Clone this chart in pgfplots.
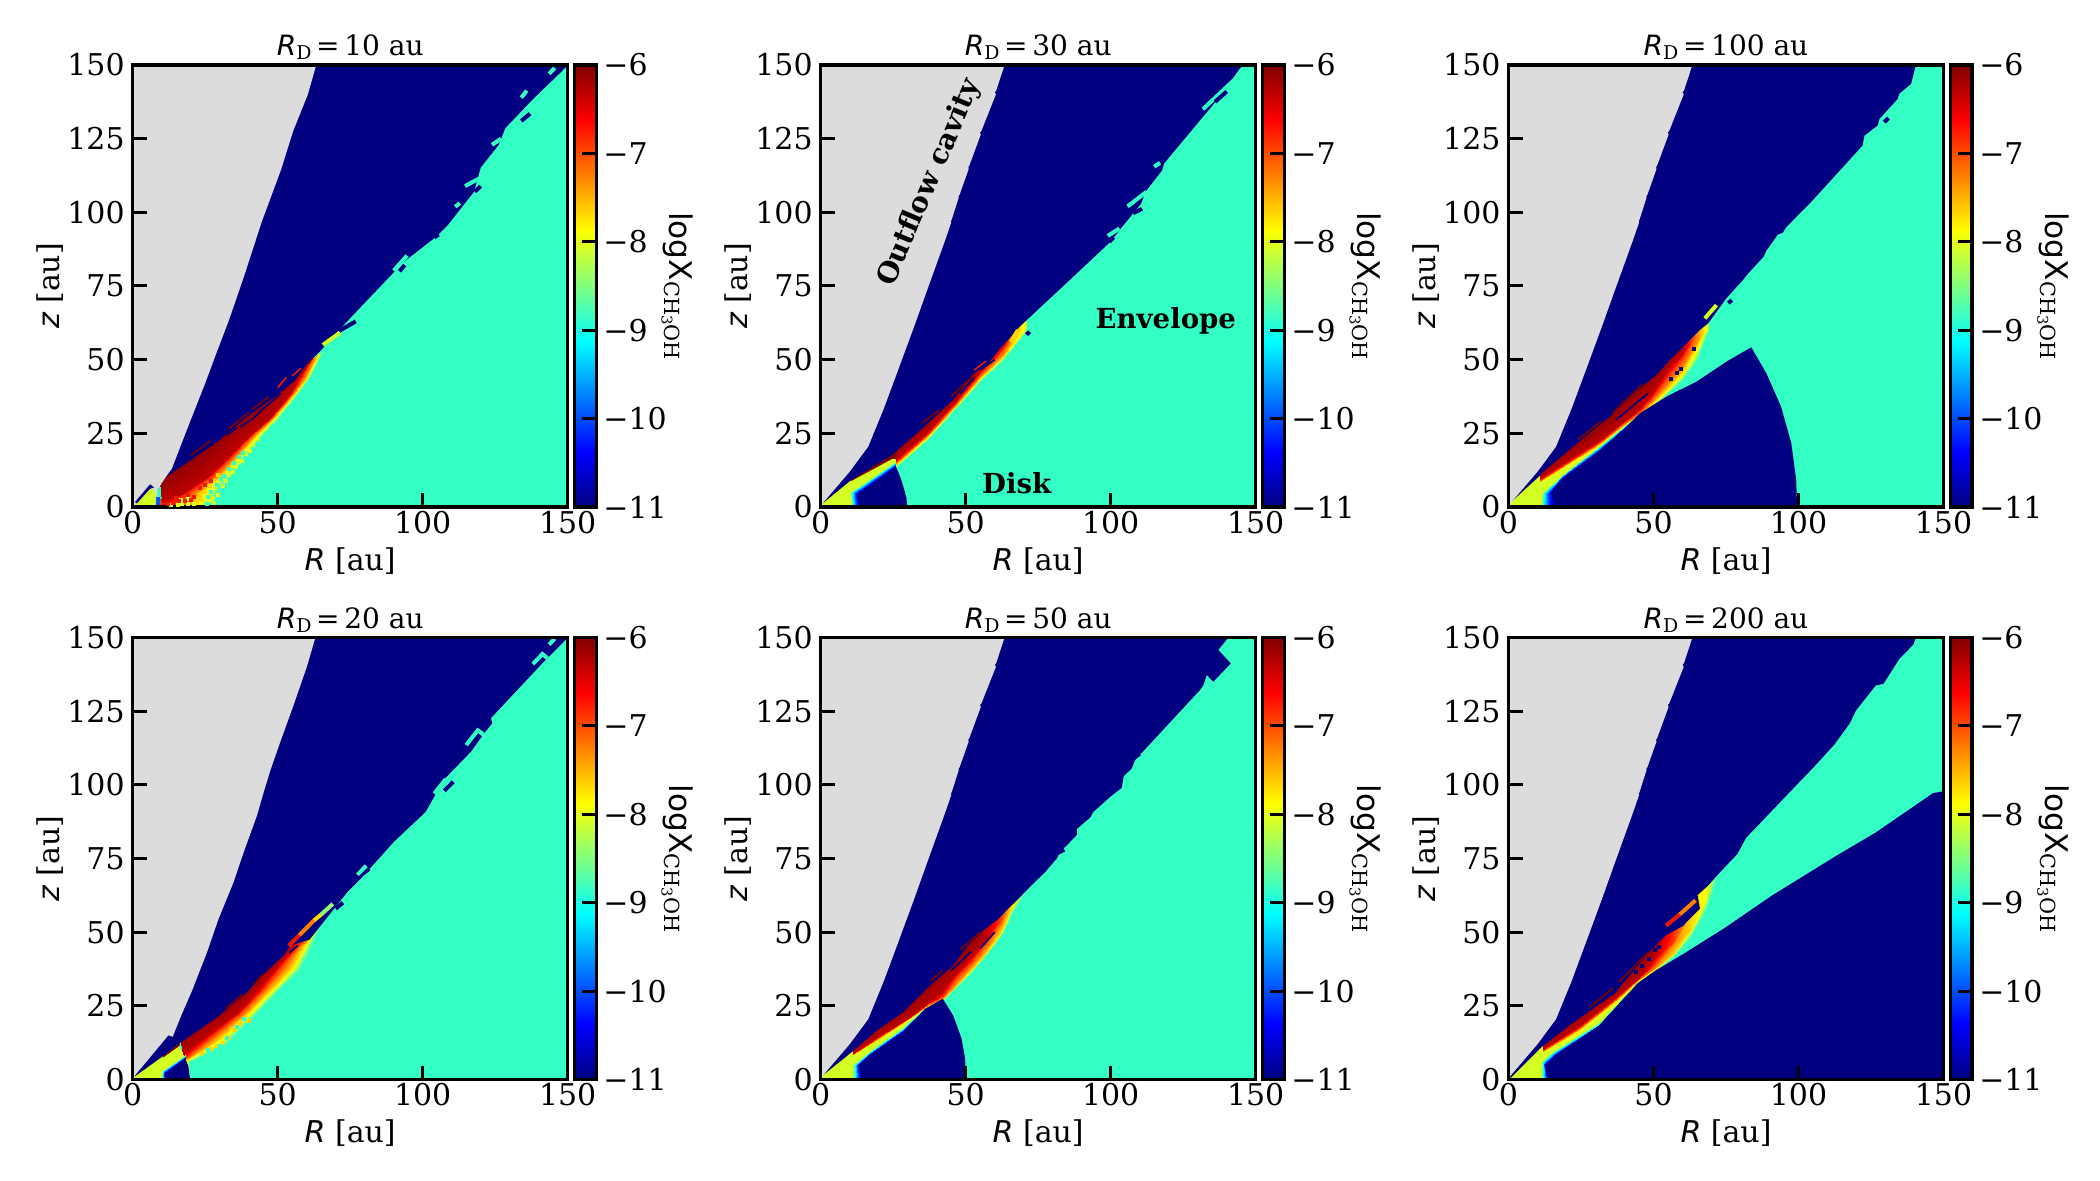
\documentclass[border=0pt]{standalone}
\usepackage{fontspec}
\usepackage{pgfplots}
\pgfplotsset{compat=1.18}
\setmainfont{DejaVu Serif}
\newfontfamily\dvs{DejaVu Sans}
\newcommand\fs{\fontsize{15}{17}\selectfont}
\newcommand\ti[1]{{\dvs\itshape #1}}
\newcommand\cblabel{{\dvs\fontsize{15.6}{17}\selectfont logX}\raisebox{-0.35ex}{\fontsize{10.4}{11}\selectfont CH\raisebox{-0.25ex}{\fontsize{7.4}{8}\selectfont 3}OH}}
\newcommand\rd[1]{\ti{R}\raisebox{-0.3ex}{\fontsize{9.5}{10}\selectfont D}\,=\,#1 au}

\definecolor{cT}{RGB}{51,255,196}
\definecolor{cN}{RGB}{0,0,128}
\definecolor{cK}{RGB}{220,220,220}
\definecolor{cG}{RGB}{140,255,110}
\definecolor{cY}{RGB}{212,255,37}
\definecolor{cA}{RGB}{255,215,0}
\definecolor{cO}{RGB}{255,125,0}
\definecolor{cR}{RGB}{235,25,0}
\definecolor{cD}{RGB}{128,0,0}
\definecolor{cB}{RGB}{0,80,255}

\pgfplotsset{
  ar/.style={fill=#1, draw=none, mark=none, forget plot},
  st/.style={draw=#1, line width=2pt, mark=none, forget plot},
  th/.style={draw=#1, line width=0.8pt, mark=none, forget plot},
  px/.style={only marks, mark=square*, mark size=0.75pt, color=#1, forget plot},
  grad/.style={surf, shader=interp, mesh/cols=#1, point meta=explicit, mark=none, forget plot},
  panel/.style={
    scale only axis, width=217.5pt, height=221pt,
    xmin=0, xmax=150, ymin=0, ymax=150,
    xtick={0,50,100,150}, xticklabels={0,50,100,150},
    ytick={0,25,50,75,100,125,150}, yticklabels={0,25,50,75,100,125,150},
    tick align=inside, xtick pos=bottom, ytick pos=left,
    major tick length=7pt, tick style={black, line width=1.5pt},
    axis line style={line width=1.7pt}, axis on top,
    tick label style={font=\fs},
    xticklabel style={yshift=1.5pt}, yticklabel style={xshift=-0.5pt},
    label style={font=\fs},
    xlabel={\ti{R} [au]}, ylabel={\ti{z} [au]},
    xlabel style={at={(axis description cs:0.5,-0.122)}, anchor=center},
    ylabel style={at={(axis description cs:-0.19,0.5)}, anchor=center},
    title style={font=\fontsize{14}{16}\selectfont, yshift=-7pt},
    colormap/jet, point meta min=-11, point meta max=-6,
    colorbar,
    colorbar style={
      at={(parent axis.north east)}, anchor=north west, xshift=-5pt,
      scale only axis, width=10.8pt, height=221pt,
      ytick={-11,-10,-9,-8,-7,-6},
      yticklabels={−11,−10,−9,−8,−7,−6},
      yticklabel pos=right, ytick pos=right, tick align=inside,
      major tick length=7pt, tick style={black, line width=1.5pt},
      axis line style={line width=1.7pt}, axis on top,
      tick label style={font=\fs},
      ylabel={\cblabel}, label style={font=\fs},
      ylabel style={at={(axis description cs:4.75,0.5)}, anchor=center, rotate=180},
    },
  },
}

% teal background, everything is painted over it
\newcommand\bg{\addplot[ar=cT] coordinates {(0,0)(150,0)(150,150)(0,150)} --cycle;}
% outflow cavity for panels with a disk
\newcommand\cavity{\addplot[ar=cK] coordinates {(0,0)(0,150)(63.4,150)(60.5,141.3)(60,140.8)(60.4,140)(55.4,127.6)(54.9,127.1)(55.2,126.4)(51.3,116)(50.9,115.4)(51,114.6)(47.9,106)(47.5,105.5)(47.6,105)(45.2,97.6)(44.9,97)(45,96.5)(42.9,90.5)(36.7,73.6)(32.2,61.2)(26.7,46.5)(21.8,33.5)(17.8,23.9)(16.4,20.5)(10,12)(0.8,1.4)} --cycle;}

\begin{document}
\begin{tikzpicture}
\path[use as bounding box] (0,0) rectangle (1050pt,590pt);

% ---------- R_D = 10 ----------
\begin{axis}[panel, at={(66.35pt,336.5pt)}, title={\rd{10}}]
\bg
\addplot[ar=cR] coordinates {(9.5,0)(16,0)(9.5,3)} --cycle;
\addplot[grad=7] coordinates {
(26.8,0)[-8.87](24.5,0)[-8.2](21,0)[-7.7](17.5,0)[-7.3](14,0)[-6.9](10,2)[-6.3](9,12)[-6]
(30.2,6.8)[-8.87](28,6.5)[-8.2](25,6)[-7.7](22.5,5.5)[-7.3](19.5,5)[-6.9](16.4,4)[-6.3](11,14.5)[-6]
(33.7,10.8)[-8.87](32.2,10.7)[-8.2](30.5,10.6)[-7.7](29,10.5)[-7.3](27.3,10.4)[-6.9](25.6,10.2)[-6.3](20,19.5)[-6]
(38.3,17)[-8.87](37.3,17)[-8.2](36.2,17)[-7.7](35.2,17)[-7.3](34,17)[-6.9](33,17)[-6.3](25,23.5)[-6]
(44.5,24)[-8.87](43.4,24)[-8.2](42.5,24)[-7.7](41.7,24)[-7.3](40.8,24)[-6.9](40,24)[-6.3](31,27.5)[-6]
(50,30)[-8.87](49.2,30)[-8.2](48.5,30)[-7.7](48,30)[-7.3](47.5,30)[-6.9](47,30)[-6.3](39,34)[-6]
(56.7,38)[-8.87](56,38)[-8.2](55.5,38)[-7.7](55,38)[-7.3](54.5,38)[-6.9](54,38)[-6.3](49.8,42)[-6]
(61,44)[-8.87](60.5,44)[-8.2](60,44)[-7.7](59.5,44)[-7.3](58.5,44)[-6.9](57.5,44)[-6.3](57,48)[-6]
(65.5,53)[-8.87](64.5,52)[-8.2](64,52)[-7.7](63,51)[-7.3](62,50.5)[-6.9](61.5,50)[-6.3](61,54)[-6.3]
};
% speckle along the noisy inner band
\addplot[px=cY] coordinates {(27.5,3)(28.5,6)(29.5,4)(31,7)(32,9)(33,11)(34.5,12)(35.5,13.5)(36.5,15)(37.5,15.5)(39,18)(40.5,19)(41.5,21)(43,23)(28,1.5)(26.5,2.5)(13,0.7)(15.5,0.8)(17,1)(19,1)(21,1.2)(16.5,2.5)(19,2.7)};
\addplot[px=cT] coordinates {(25.5,1)(26,3.5)(27,5)(29,7.5)(30.5,9.5)(31.5,10.5)(33,13)(35,15)(36.5,17)(38,18.5)};
\addplot[px=cA] coordinates {(22,2)(24,2.5)(23,4)(25,5)(26.5,7)(28,9)(29.5,11)};
\addplot[px=cR] coordinates {(12,1)(14,1.5)(16,2)(18,2)(20,2.5)(15,3)(19,4)(21,3.5)(23,6.5)(25,7.5)(27,9)};
\addplot[ar=cN] coordinates {(0,150)(150,150)(147.8,147.7)(137.8,138.2)(128.5,128.6)(126.2,122.9)(120,115.2)(117.7,107)(108.5,95.5)(104.6,91.7)(93,82.8)(90,79.6)(80.7,70)(74.6,63.7)(66.9,55.4)(64.6,52.8)(60,48.5)(56,43)(49.8,38)(39.4,30.6)(29,22)(10.6,9.6)(8.5,5.7)(0,5.7)} --cycle;
\addplot[ar=cK] coordinates {(0,0)(0,150)(63.3,150)(60.4,140)(55.3,127.5)(51.2,114.6)(47.6,105)(44.5,96.8)(38.4,78.3)(33.3,63.7)(28.4,51)(25,42)(18.6,26)(13.5,13)(12,11)(10.6,9)(8.5,5.7)(8,0)} --cycle;
\addplot[ar=cY] coordinates {(0.8,0.5)(6,6.2)(7.7,5.7)(8.2,0.2)} --cycle;
\addplot[ar=cN] coordinates {(0.8,1.7)(6,7.7)(7.4,6.6)(6,6.2)(1.4,1.2)} --cycle;
\addplot[ar=cB] coordinates {(8,0)(8,3.4)(9.5,3.4)(9.5,0)} --cycle;
\addplot[th=cN] coordinates {(32.5,24.4)(36,27)};
\addplot[th=cN] coordinates {(37,27)(40.6,29.5)};
\addplot[th=cN] coordinates {(41,29.5)(46.4,34.6)};
\addplot[th=cN] coordinates {(46.5,34.5)(51,38.5)};
\addplot[th=cD] coordinates {(20,17.5)(27,22.5)};
\addplot[th=cD] coordinates {(33,26.5)(40,32)};
\addplot[th=cD] coordinates {(41,33)(47,37.5)};
\addplot[th=cR] coordinates {(50,40.5)(53,44)};
\addplot[th=cR] coordinates {(55,44.5)(58,47)};
% islands along the edge
\addplot[st=cT] coordinates {(145.5,149)(143.6,147)};
\addplot[st=cT] coordinates {(135.9,141.3)(134,138.9)};
\addplot[st=cT] coordinates {(132.4,131)(134,132.5)};
\addplot[st=cN] coordinates {(137,133.5)(134,131)};
\addplot[st=cT] coordinates {(123.9,122.9)(127,125)};
\addplot[st=cT] coordinates {(114.6,108.9)(119.3,111.4)};
\addplot[st=cN] coordinates {(118,107)(120,108.9)};
\addplot[st=cT] coordinates {(111.2,101.9)(112.8,103.1)};
\addplot[st=cN] coordinates {(104,91.5)(105.5,92.5)};
\addplot[st=cT] coordinates {(90,80.2)(94.6,85.3)};
\addplot[st=cN] coordinates {(92,80)(93.8,82.1)};
\addplot[st=cN] coordinates {(76.9,63)(69.2,58.6)};
\addplot[st=cY] coordinates {(65.6,55)(71.5,59.2)};
\end{axis}

% ---------- R_D = 30 ----------
\begin{axis}[panel, at={(410.35pt,336.5pt)}, title={\rd{30}}]
\bg
\addplot[ar=cY] coordinates {(0,150)(0,0)(26,0)(26,20)} --cycle;
\addplot[ar=cD] coordinates {(10.3,8.7)(24.8,16.4)(26.5,16.2)(26.5,23.5)(10.3,12)} --cycle;
\addplot[grad=7] coordinates {
(26,13.6)[-8.87](26,14)[-8.2](26,14.4)[-7.7](26,14.8)[-7.3](26,15.3)[-6.9](26,16.2)[-6.3](26,23.5)[-6]
(36.6,22.7)[-8.87](36.6,23.1)[-8.2](36.6,23.6)[-7.7](36.6,24)[-7.3](36.6,24.6)[-6.9](36.6,25.5)[-6.3](36.6,33)[-6]
(45.9,33)[-8.87](45.9,33.3)[-8.2](45.9,33.7)[-7.7](45.9,34)[-7.3](45.9,34.5)[-6.9](45.9,35.2)[-6.3](45.9,42)[-6]
(55,42.7)[-8.87](55,43.2)[-8.2](55,43.7)[-7.7](55,44.2)[-7.3](55,45)[-6.9](55,46)[-6.3](55,52.5)[-6]
(63,50)[-8.87](63,50.5)[-8.2](63,51)[-7.7](63,52)[-7.3](63,53.5)[-6.9](63,54.5)[-6.5](63,60)[-6.5]
(71,60)[-8.87](71,60.5)[-8.4](71,61)[-8.2](71,61.5)[-8.2](71,62)[-8.2](71,62.5)[-8.2](71,68)[-8.2]
};
\addplot[ar=cN] coordinates {(0,150)(146,150)(144.5,148.8)(138,139.7)(118.4,116.6)(117.7,114.2)(112,107)(110.5,103)(103.9,95)(99.9,90)(94.6,85.1)(90.7,81.5)(85.4,76.6)(70.9,63.3)(68.3,60.9)(65.6,57.8)(61.7,53.6)(57.7,48.7)(52.5,45.1)(45.9,36.6)(35.3,26.9)(24.8,17.8)(10.3,9)(1,1.5)(0,1)} --cycle;
\cavity
\addplot[grad=4] coordinates {
(10.3,0)[-8.1](11,0)[-9](12,0)[-10](13.6,0)[-11]
(10,5.1)[-8.1](10.8,5)[-9](11.8,4.8)[-10](12.9,4.5)[-11]
(14.9,8.1)[-8.1](15.5,8)[-9](16.3,7.8)[-10](17.5,7.5)[-11]
(25.4,15.4)[-8.1](25.5,15)[-9](25.7,14.3)[-10](25.8,13.6)[-11]
};
\addplot[ar=cN] coordinates {(13.6,0)(12.9,4.5)(17.5,7.5)(25.8,13.6)(26,13.6)(27.5,10)(28.7,6.3)(29.6,3)(29.8,0)} --cycle;
\addplot[th=cD] coordinates {(35,28.5)(41,33)};
\addplot[th=cD] coordinates {(45,37.5)(52,44)};
\addplot[th=cR] coordinates {(53,46.5)(57,49.5)};
\addplot[th=cN] coordinates {(48,38.5)(53,44)};
\addplot[th=cN] coordinates {(55,46.5)(60,50)};
\addplot[st=cT] coordinates {(131.8,135)(142,144.4)(143.5,143)};
\addplot[st=cN] coordinates {(136,137.5)(140,141)};
\addplot[st=cT] coordinates {(115,115.5)(117,116.8)};
\addplot[st=cT] coordinates {(105.8,102)(112.4,107)};
\addplot[st=cN] coordinates {(107.8,99.7)(110.8,101.2)};
\addplot[st=cT] coordinates {(99,92)(103,94.5)};
\addplot[st=cN] coordinates {(99.5,90)(101,91.5)};
\addplot[st=cA] coordinates {(65.5,56)(68,60)};
\addplot[st=cN] coordinates {(71,58.5)(72,59.5)};
\node[font=\fontsize{14}{16}\bfseries, rotate=67] at (axis cs:37.6,110) {Outflow cavity};
\node[font=\fontsize{13.8}{16}\bfseries] at (axis cs:119,63) {Envelope};
\node[font=\fontsize{13.8}{16}\bfseries] at (axis cs:67.6,8) {Disk};
\end{axis}

% ---------- R_D = 100 ----------
\begin{axis}[panel, at={(754.25pt,336.5pt)}, title={\rd{100}}]
\bg
\addplot[ar=cY] coordinates {(0,150)(0,0)(45,0)(45,30)} --cycle;
\addplot[grad=7] coordinates {
(11,8)[-8.1](11,8.2)[-8.1](11,8.5)[-7.9](11,8.9)[-7.3](11,9.3)[-6.9](11,9.8)[-6.3](11,15.5)[-6]
(20,13)[-8.1](20,13.3)[-8.1](20,14.4)[-7.9](20,14.7)[-7.3](20,15)[-6.9](20,15.5)[-6.3](20,22)[-6]
(31.5,20)[-8.1](31.5,20.5)[-8.1](31.5,21.2)[-7.9](31.5,21.7)[-7.3](31.5,22.2)[-6.9](31.5,22.8)[-6.3](31.5,31)[-6]
(39.6,26.5)[-8.1](39.6,27)[-8.1](39.6,27.5)[-7.9](39.6,27.9)[-7.3](39.6,28.4)[-6.9](39.6,29)[-6.3](39.6,39)[-6]
(45.5,30.5)[-8.87](45.5,31)[-8.2](45.5,31.5)[-7.7](45.5,32)[-7.3](45.5,32.5)[-6.9](45.5,33.5)[-6.3](45.5,44.5)[-6]
(50,34)[-8.87](50,34.8)[-8.2](50,35.5)[-7.7](50,36.5)[-7.3](50,38)[-6.9](50,39.7)[-6.3](50,48)[-6]
(55,38.6)[-8.87](55,39.3)[-8.2](55,40.5)[-7.7](55,42)[-7.3](55,44.5)[-6.9](55,47)[-6.3](55,53.5)[-6]
(60,43.5)[-8.87](60,44.5)[-8.2](60,46)[-7.7](60,48)[-7.3](60,51)[-6.9](60,53)[-6.3](60,58.5)[-6.3]
(65,50)[-8.87](65,52)[-8.2](65,54.5)[-7.7](65,56.5)[-7.3](65,58)[-7.3](65,59)[-7.3](65,64)[-7.3]
(69,60.6)[-8.87](69,61)[-8.4](69,61.5)[-8.2](69,62)[-8.2](69,62.5)[-8.2](69,63)[-8.2](69,68)[-8.2]
};
\addplot[ar=cN] coordinates {(0,150)(140.5,150)(138.8,143.6)(134.7,140.2)(134.2,138.5)(127.9,131.7)(127.3,129.5)(122.7,126)(122.1,122.7)(104.9,104.1)(95.8,95)(94.5,93)(92.9,92.5)(88.9,87)(88,85)(82.6,79.2)(80.8,77)(75.1,70.8)(68.8,62.3)(65.9,60)(61.4,55.5)(55.6,49.9)(51,44.8)(45.3,40.3)(35,30.7)(25.8,23.4)(12,12)(11.1,10.9)(0.6,1.4)(0,1)} --cycle;
\cavity
\addplot[grad=4] coordinates {
(10.9,0)[-8.1](12,0)[-9](13.5,0)[-10](16,0)[-11]
(11.5,4.7)[-8.1](12.4,4.7)[-9](13.6,4.7)[-10](14.9,5.3)[-11]
(18.9,10.9)[-8.1](18.6,10.6)[-9](18.4,10.2)[-10](18.9,9.8)[-11]
(30.4,20)[-8.1](31,19.9)[-9](31.5,19.6)[-10](31.5,19.2)[-11]
(39.6,27.3)[-8.1](39.9,27.3)[-9](40,27)[-10](40.1,26.7)[-11]
(45.3,31.6)[-8.1](45.4,31.6)[-9](45.5,31.5)[-10](45.6,31.4)[-11]
};
\addplot[ar=cN] coordinates {(16,0)(14.9,5.3)(18.9,9.8)(31.5,19.2)(40.1,26.7)(45.3,31.8)(54.5,37.5)(64.8,42.5)(75.1,49.3)(83.7,54.2)(88.9,45.4)(94,34)(97.5,21.7)(99.2,9.3)(99.5,0)} --cycle;
\addplot[th=cD] coordinates {(24,23)(32,29)};
\addplot[th=cD] coordinates {(36,32)(46,41.5)};
\addplot[th=cN] coordinates {(37,29.5)(48,38.5)};
\addplot[px=cN] coordinates {(56,43.5)(58,45.5)(59.5,47)(64,53.5)};
\addplot[st=cN] coordinates {(129.6,130.6)(131,132)};
\addplot[st=cN] coordinates {(75.8,69.2)(77,70.2)};
\addplot[st=cY] coordinates {(67.7,64)(71.7,68.5)};
\end{axis}

% ---------- R_D = 20 ----------
\begin{axis}[panel, at={(66.35pt,50.25pt)}, title={\rd{20}}]
\bg
\addplot[ar=cY] coordinates {(0,150)(0,0)(19.8,0)(19.3,5.9)(16.1,11.4)} --cycle;
\addplot[ar=cD] coordinates {(10.4,7.4)(16.1,11.4)(16.4,12.5)(10.4,7.9)} --cycle;
\addplot[grad=7] coordinates {
(19.3,5.9)[-8.87](19.2,6.2)[-8.2](19.2,6.8)[-7.7](18.7,6.8)[-7.3](18.1,7.4)[-6.9](17.5,8.5)[-6.3](16.1,16)[-6]
(32.5,12.5)[-8.87](31.3,13)[-8.2](30.2,13.6)[-7.7](29,14.8)[-7.3](27.9,15.3)[-6.9](26.7,15.9)[-6.3](24,23)[-6]
(41.7,21.6)[-8.87](40.6,21.6)[-8.2](39.4,22.1)[-7.7](38.3,22.1)[-7.3](37.1,22.7)[-6.9](35.9,22.7)[-6.3](32,28)[-6]
(49.8,30)[-8.87](48.6,30)[-8.2](47.5,30)[-7.7](46.3,30.6)[-7.3](45.2,31.2)[-6.9](44,31.8)[-6.3](41,36)[-6]
(57.8,37.5)[-8.87](56.1,37.5)[-8.2](54.9,38)[-7.7](53.2,38.6)[-7.3](52,39.2)[-6.9](50.9,39.7)[-6.3](48,44)[-6]
(61,44)[-8.87](59.5,44)[-8.2](58.5,44)[-7.7](57.5,44.5)[-7.3](56.5,45)[-6.9](55,45)[-6.3](54,50)[-6.3]
(64.7,52.2)[-8.87](63,50)[-8.3](62,49)[-7.8](61,48)[-7.5](60,47.5)[-7.3](59,47)[-7.3](58,51)[-7.3]
};
\addplot[px=cA] coordinates {(31,12.5)(33,14)(35,17)(37,19)(40,20)(27,10.5)(24,9)(29,11.5)};
\addplot[px=cT] coordinates {(30,11.5)(32.5,14)(36,18)(38.5,20.5)(26,10)};
\addplot[ar=cN] coordinates {(0,150)(150,150)(147.7,147.6)(141.3,141.3)(123.5,122.6)(124,120.9)(121.2,117.5)(116.6,111.2)(107.4,101.9)(101,90.8)(90,80.6)(78.6,68.1)(74,63.6)(69.4,57.9)(64.8,52.2)(61,47.5)(54.4,45.4)(52,42)(46.3,37.5)(39.4,29.5)(29,21)(16.4,12.5)(10.4,7.9)(0.8,1.1)(0,1)} --cycle;
\addplot[ar=cK] coordinates {(0,0)(0,150)(63,150)(60.1,140.2)(55.5,127.1)(50.9,114.6)(47.5,105)(45.2,97.6)(42.9,89.7)(38.3,77.2)(34.8,67)(29.6,54.5)(25.6,43.1)(20.4,30)(16.9,22.1)(13.8,14.5)(12.3,15)(0.8,1.4)} --cycle;
\addplot[grad=4] coordinates {
(9.7,0)[-8.1](10.2,0)[-9](10.7,0)[-10](11.2,0)[-11]
(10,3)[-8.1](10.4,2.8)[-9](10.9,2.5)[-10](11.3,2)[-11]
(18.1,8.2)[-8.1](18.1,8)[-9](18.1,7.6)[-10](18.1,7.2)[-11]
};
\addplot[ar=cN] coordinates {(11.2,0)(11.3,2)(18.1,7.2)(19.2,4.5)(19.8,0)} --cycle;
\addplot[th=cD] coordinates {(32,24)(38,29)};
\addplot[th=cD] coordinates {(42,32.5)(47,38)};
\addplot[th=cN] coordinates {(45,36)(51,41.5)};
\addplot[th=cN] coordinates {(54,43)(57,45.5)};
\addplot[st=cR] coordinates {(53.8,45.4)(57.5,49)};
\addplot[st=cO] coordinates {(57.5,49)(62.5,54)};
\addplot[st=cA] coordinates {(62.5,54)(65,56)};
\addplot[st=cG] coordinates {(65,56)(69,59.6)};
\addplot[st=cN] coordinates {(70,58)(72.5,60)};
\addplot[st=cN] coordinates {(79.5,70)(81.5,71.5)};
\addplot[st=cT] coordinates {(77.5,69.5)(80.5,72.5)};
\addplot[st=cT] coordinates {(104,97)(108,102)};
\addplot[st=cN] coordinates {(107.5,98)(110.5,101)};
\addplot[st=cT] coordinates {(115,113.5)(119,118.5)(121,117)};
\addplot[st=cT] coordinates {(138,141)(141.3,144.4)(143,143)};
\addplot[st=cT] coordinates {(145.5,149.6)(143.6,147.6)};
\end{axis}

% ---------- R_D = 50 ----------
\begin{axis}[panel, at={(410.35pt,50.25pt)}, title={\rd{50}}]
\bg
\addplot[ar=cY] coordinates {(0,150)(0,0)(42,0)(42,27)} --cycle;
\addplot[grad=7] coordinates {
(11,8)[-8.1](11,8.1)[-8.1](11,8.3)[-7.9](11,8.5)[-7.3](11,8.7)[-6.9](11,8.9)[-6.3](11,14)[-6]
(20,13.5)[-8.1](20,13.6)[-8.1](20,13.8)[-7.9](20,14.1)[-7.3](20,14.4)[-6.9](20,14.7)[-6.3](20,22)[-6]
(30,19.9)[-8.1](30,20)[-8.1](30,20.2)[-7.9](30,20.5)[-7.3](30,20.7)[-6.9](30,21)[-6.3](30,29)[-6]
(37,24.5)[-8.1](37,24.7)[-8.1](37,25)[-7.9](37,25.3)[-7.3](37,25.6)[-6.9](37,26)[-6.3](37,35.5)[-6]
(42,26.5)[-8.87](42,27.2)[-8.2](42,27.4)[-7.7](42,27.8)[-7.3](42,28.3)[-6.9](42,30.5)[-6.3](42,40)[-6]
(47,31.5)[-8.87](47,32)[-8.2](47,32.2)[-7.7](47,33)[-7.3](47,35)[-6.9](47,36.5)[-6.3](47,44)[-6]
(52,36.5)[-8.87](52,37.2)[-8.2](52,37.5)[-7.7](52,38.5)[-7.3](52,40.3)[-6.9](52,41.9)[-6.3](52,50.8)[-6]
(57,42.5)[-8.87](57,42.7)[-8.2](57,43)[-7.7](57,44.5)[-7.3](57,46.5)[-6.9](57,48)[-6.3](57,55.2)[-6.3]
(62,49.3)[-8.87](62,49.5)[-8.2](62,50)[-7.7](62,52.5)[-7.3](62,54.5)[-6.9](62,54.6)[-6.9](62,59.5)[-6.9]
(66,56)[-8.87](66,58)[-8.2](66,58.5)[-7.7](66,59.5)[-7.7](66,59.7)[-7.7](66,59.8)[-7.7](66,64.5)[-7.7]
(70,63)[-8.87](70,63.1)[-8.87](70,63.2)[-8.87](70,63.3)[-8.87](70,63.4)[-8.87](70,63.5)[-8.87](70,67.6)[-8.87]
};
\addplot[ar=cN] coordinates {(0,150)(140.6,150)(137.1,145.8)(141.4,141.2)(135.4,135)(133.1,137.3)(132,133.9)(130.8,132.2)(108.4,108.4)(107.2,105.5)(104.5,103)(103.8,99)(99.8,95.9)(94,90.8)(93,89)(88.3,85)(88.3,83)(84.3,78.9)(83,78)(81.4,75)(77.4,70.4)(73.3,66.5)(68.7,61.9)(64.1,57.4)(60.7,54)(56,50.6)(50.3,45)(45.7,38.7)(38.9,33)(35.4,29.7)(28.5,22.9)(19.3,16.6)(10.7,9.3)(0.7,1.4)(0,1)} --cycle;
\cavity
\addplot[grad=4] coordinates {
(10.7,0)[-8.1](11.7,0)[-9](12.8,0)[-10](14.1,0)[-11]
(10.7,4.8)[-8.1](11.7,4.8)[-9](12.4,4.8)[-10](13.3,4.8)[-11]
(16.4,9.3)[-8.1](16.6,9)[-9](16.8,8.6)[-10](17,8.2)[-11]
(28.5,17.8)[-8.1](28.5,17.3)[-9](28.5,16.7)[-10](28.5,16.1)[-11]
(35.4,24)[-8.1](35.6,24)[-9](35.8,24)[-10](36,24)[-11]
(42.1,27.4)[-8.1](42.1,27.4)[-9](42.1,27.4)[-10](42.1,27.4)[-11]
};
\addplot[ar=cN] coordinates {(14.1,0)(13.3,4.8)(17,8.2)(28.5,16.1)(36,24)(42.1,27.4)(45.7,21.7)(48.6,13.8)(49.8,7)(50.1,0)} --cycle;
\addplot[th=cD] coordinates {(38,33.5)(42,37)};
\addplot[th=cD] coordinates {(48,44)(55,50)};
\addplot[th=cN] coordinates {(45,37)(52,43.5)};
\addplot[th=cN] coordinates {(55,44.5)(60,50)};
\addplot[st=cN] coordinates {(106,108)(110,110.5)};
\addplot[st=cN] coordinates {(86.2,82.5)(88,84)};
\addplot[st=cN] coordinates {(82,77)(84,78)};
\end{axis}

% ---------- R_D = 200 ----------
\begin{axis}[panel, at={(754.25pt,50.25pt)}, title={\rd{200}}]
\bg
\addplot[ar=cY] coordinates {(0,150)(0,0)(44.5,0)(44.5,32.5)} --cycle;
\addplot[grad=7] coordinates {
(12,8.6)[-8.1](12,8.9)[-8.1](12,9.3)[-7.9](12,9.6)[-7.3](12,10)[-6.9](12,10.3)[-6.3](12,16)[-6]
(24.3,15.5)[-8.1](24.3,15.8)[-8.1](24.3,16.5)[-7.9](24.3,17)[-7.3](24.3,17.6)[-6.9](24.3,18.2)[-6.3](24.3,25.5)[-6]
(37.5,25.5)[-8.1](37.5,26)[-8.1](37.5,26.8)[-7.9](37.5,27.2)[-7.3](37.5,27.6)[-6.9](37.5,28.2)[-6.3](37.5,35)[-6]
(44.5,32.5)[-8.1](44.5,33)[-8.1](44.5,33.4)[-7.9](44.5,33.7)[-7.3](44.5,34)[-6.9](44.5,34.2)[-6.3](44.5,43)[-6]
(50.5,36.4)[-8.87](50.5,37.3)[-8.2](50.5,37.4)[-7.7](50.5,38)[-7.3](50.5,39.5)[-6.9](50.5,42)[-6.3](50.5,49)[-6]
(57,41.9)[-8.87](57,42.5)[-8.2](57,43)[-7.7](57,46)[-7.3](57,47.4)[-6.9](57,48.5)[-6.9](57,54)[-6.9]
(63,48.6)[-8.87](63,50)[-8.2](63,51)[-7.7](63,55.5)[-7.7](63,56)[-7.7](63,56.5)[-7.7](63,62)[-7.7]
(68,57.6)[-8.87](68,60)[-8.2](68,62.2)[-7.9](68,62.5)[-7.9](68,62.8)[-7.9](68,63)[-7.9](68,68)[-7.9]
(72,69.3)[-8.87](72,69.5)[-8.87](72,69.7)[-8.87](72,69.8)[-8.87](72,69.9)[-8.87](72,70)[-8.87](72,74.5)[-8.87]
};
\addplot[ar=cN] coordinates {(0,150)(140.5,150)(139.6,147.6)(134.8,142.8)(129.3,134.3)(126.6,133.7)(119.8,125.2)(117.7,120.9)(112.3,113.6)(106.1,106.9)(81.9,82)(78.9,76.5)(74.8,72.3)(72,69.3)(68.6,65.6)(65.2,62.6)(66,58)(60,52)(54.3,49)(48.8,43.7)(36.6,29.2)(21.6,18.8)(11.3,10.9)(0.8,0.6)(0,0.6)} --cycle;
\cavity
\addplot[grad=4] coordinates {
(11.3,0)[-8.1](12,0)[-9](12.8,0)[-10](13.6,0)[-11]
(11.3,6)[-8.1](11.8,5.8)[-9](12.3,5.4)[-10](12.7,4.9)[-11]
(14.7,9.1)[-8.1](15.5,9.1)[-9](16.5,9.1)[-10](17.5,9.1)[-11]
(31.1,19.4)[-8.1](31.1,19)[-9](31.1,18.6)[-10](31.1,18.2)[-11]
(44.7,33)[-8.1](44.7,33)[-9](44.7,32.9)[-10](44.7,32.8)[-11]
};
\addplot[ar=cN] coordinates {(150,0)(150,97.8)(146.4,97.2)(126.6,83.8)(113,75.9)(91.1,62.6)(74.8,51.6)(61.1,43.1)(50.9,37.1)(44.7,32.8)(31.1,18.2)(17.5,9.1)(12.7,4.9)(13.6,0)} --cycle;
\addplot[th=cD] coordinates {(28,24.5)(36,31)};
\addplot[th=cD] coordinates {(38,33)(48,43)};
\addplot[px=cN] coordinates {(46,38.5)(48.5,41)(50.5,44)(52,45)(44,36.5)};
\addplot[st=cR] coordinates {(54.3,52.2)(59,56)};
\addplot[st=cO] coordinates {(59,56)(64.5,60.8)};
\end{axis}
\end{tikzpicture}
\end{document}
